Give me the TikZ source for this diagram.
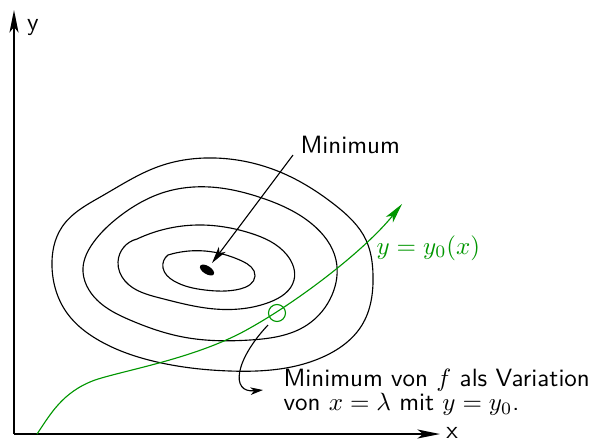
\documentclass[tikz,border=0pt]{standalone}
\usetikzlibrary{arrows.meta,hobby}
\definecolor{curvegreen}{RGB}{0,150,0}
\begin{document}
\begin{tikzpicture}[x=0.4pt,y=-0.4pt,
  axisline/.style={line width=0.65pt,-{Stealth[length=9pt,width=3.6pt,inset=2.2pt]}},
  contour/.style={line width=0.45pt},
  lbl/.style={font=\sffamily\fontsize{10}{9.4}\selectfont,inner sep=0pt},
  pointer/.style={line width=0.45pt,-{Stealth[length=6.8pt,width=3.4pt,inset=1.8pt]}},
  curvedptr/.style={line width=0.45pt,-{Stealth[length=5pt,width=3pt,inset=1.4pt]}},
  greencurve/.style={curvegreen,line width=0.45pt,-{Stealth[length=8pt,width=3.6pt,inset=2pt]}},
  ]
\useasboundingbox (0,0) rectangle (590,441);
% axes
\coordinate (O) at (14,434);
\coordinate (ytip) at (14,10);
\coordinate (xtip) at (440,434);
\draw[axisline] (O) -- (ytip);
\draw[axisline] (O) -- (xtip);
\node[lbl] (ylab) at (33,28) {y};
\node[lbl] (xlab) at (452,433) {x};
% contours
\draw[contour,use Hobby shortcut,closed=true] (215,158) .. (280,172) .. (335,205) .. (366,240) .. (373,275) .. (362,325) .. (325,356) .. (230,371) .. (157,362) .. (100,341) .. (67,313) .. (52,267) .. (62,227) .. (102,196) .. (160,166);
\draw[contour,use Hobby shortcut,closed=true] (210,187) .. (262,198) .. (312,224) .. (336,260) .. (332,295) .. (307,325) .. (250,340) .. (183,337) .. (130,320) .. (97,300) .. (83,268) .. (93,243) .. (120,216) .. (165,192);
\draw[contour,use Hobby shortcut] (137,239) .. (197,225) .. (250,233) .. (287,255) .. (294,280) .. (270,302) .. (215,309) .. (160,298) .. (125,281) .. (118,262) .. (137,239);
\draw[contour,use Hobby shortcut] (168,255) .. (205,251) .. (242,261) .. (255,276) .. (240,289) .. (205,290) .. (174,281) .. (163,268) .. (168,255);
% minimum blob
\fill[rotate around={-32:(207,270)}] (207,270) ellipse [x radius=8, y radius=4];
% minimum label and arrow
\node[lbl,anchor=base west] (minlab) at (300,153) {Minimum};
\coordinate (mstart) at (293,155);
\coordinate (mtip) at (212,263);
\draw[pointer] (mstart) -- (mtip);
% green curve
\coordinate (gstart) at (37,434);
\coordinate (gend) at (402,204);
\draw[greencurve] (gstart) .. controls (50,415) and (62,392) .. (95,380)
   .. controls (125,370) and (198,358) .. (250,328)
   .. controls (300,300) and (365,250) .. (gend);
\node[lbl,curvegreen,anchor=base west] (glab) at (376,254) {$y=y_0(x)$};
\node[draw=curvegreen,line width=0.45pt,circle,minimum size=17*0.4pt,inner sep=0pt] (mark) at (277,313) {};
% variation label
\coordinate (vstart) at (268,325);
\node[lbl,align=left,anchor=north west] (vlab) at (283,369) {Minimum von $f$ als Variation\\von $x=\lambda$ mit $y=y_0$.};
\coordinate (vtip) at (263,390);
\draw[curvedptr] (vstart) .. controls (235,360) and (230,393) .. (vtip);
\end{tikzpicture}
\end{document}
